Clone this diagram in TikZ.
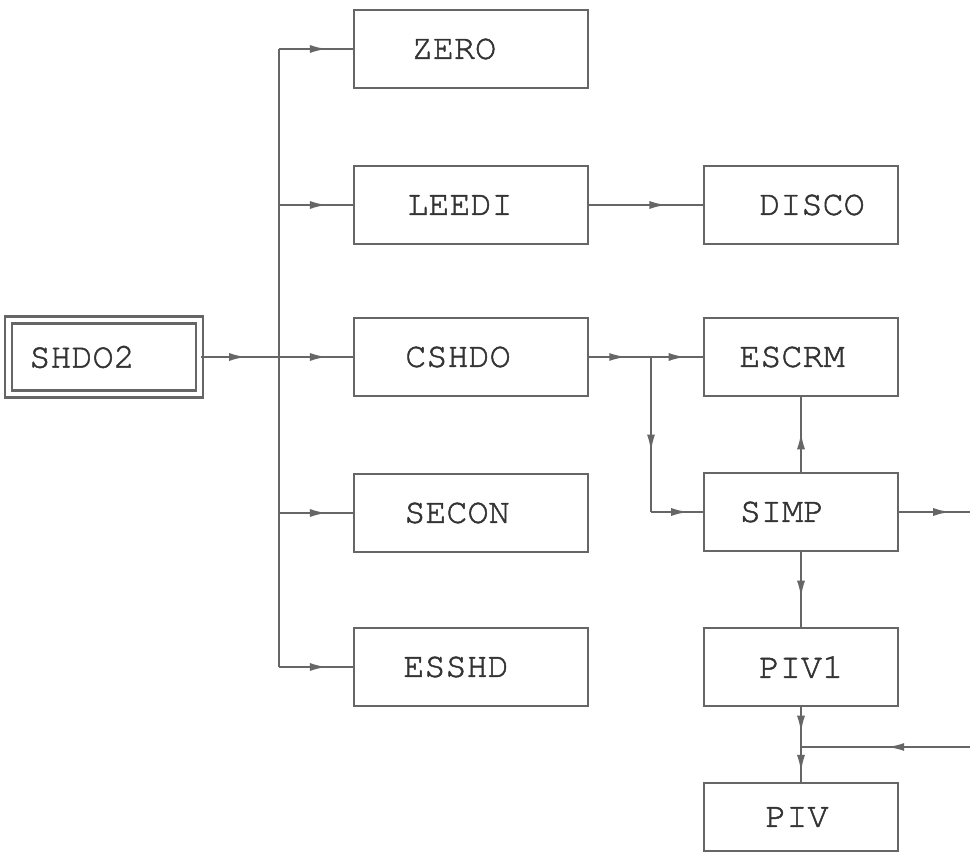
\documentclass[tikz,border=0pt]{standalone}
\usepackage{fontspec}
\newfontfamily\typewr{texgyrecursor-regular.otf}[FakeBold=1.4]
\usetikzlibrary{arrows.meta,positioning,decorations.markings}

\begin{document}
\begin{tikzpicture}[x=0.02cm,y=-0.02cm,
wire/.style={draw=black!60,line width=1.2pt},
arr/.style={wire,postaction={decorate},decoration={markings,mark=at position #1 with {\arrow[black!60]{Latex[length=3.4mm,width=1.6mm]}}}},
arr/.default=.65,
unit/.style={draw=black!60,line width=1.5pt,fill=white,minimum width=4.68cm,minimum height=1.56cm,text=black!80,font=\typewr\fontsize{20}{24}\selectfont},
sub/.style={unit,minimum width=3.88cm},
top/.style={unit,double,double distance=2.4pt,minimum width=3.82cm,minimum height=1.48cm},
nudge/.style={execute at begin node={\hspace*{#1}},execute at end node={\hspace*{-#1}}}]
\fill[white](0,0)rectangle(970,861);
\useasboundingbox(0,0)rectangle(970,861);
\node[top,nudge=-.44cm] at (104,357)(shdo2){SHDO2};
\node[unit,nudge=-.34cm] at (471,49)(zero){ZERO};
\node[unit,nudge=-.22cm] at (471,205)(leedi){LEEDI};
\node[unit,nudge=-.26cm] at (471,357)(cshdo){CSHDO};
\node[unit,nudge=-.28cm] at (471,513)(secon){SECON};
\node[unit,nudge=-.3cm] at (471,667)(esshd){ESSHD};
\node[sub,nudge=.22cm] at (801,205)(disco){DISCO};
\node[sub,nudge=-.18cm] at (801,357)(escrm){ESCRM};
\node[sub,nudge=-.38cm] at (801,512)(simp){SIMP};
\node[sub] at (801,667)(piv1){PIV1};
\node[sub,nudge=-.08cm,minimum height=1.36cm] at (801,817)(piv){PIV};
\coordinate (trunk) at (279,357);
\coordinate (split) at (651,357);
\coordinate (bend) at (split |- simp);
\coordinate (join) at (801,747);
\coordinate (inR) at (970,747);
\coordinate (outR) at (970,512);
% left fan
\draw[arr=.58](shdo2.east)--(trunk);
\draw[wire](trunk |- zero)--(trunk |- esshd);
\foreach \n in {zero,leedi,cshdo,secon,esshd}
  \draw[arr](trunk |- \n)--(\n.west);
\draw[arr=.68](leedi)--(disco);
% right column
\draw[arr=.6](cshdo)--(split);\draw[arr=.67](split)--(escrm.west);
\draw[arr=.61](split)--(bend);\draw[arr=.72](bend)--(simp.west);
\draw[arr=.53](simp)--(escrm);\draw[arr=.72](simp)--(outR);
\draw[arr=.61](simp)--(piv1);\draw[arr=.64](piv1)--(join);
\draw[arr=.72](join)--(piv);\draw[arr=.49](inR)--(join);
\end{tikzpicture}
\end{document}
